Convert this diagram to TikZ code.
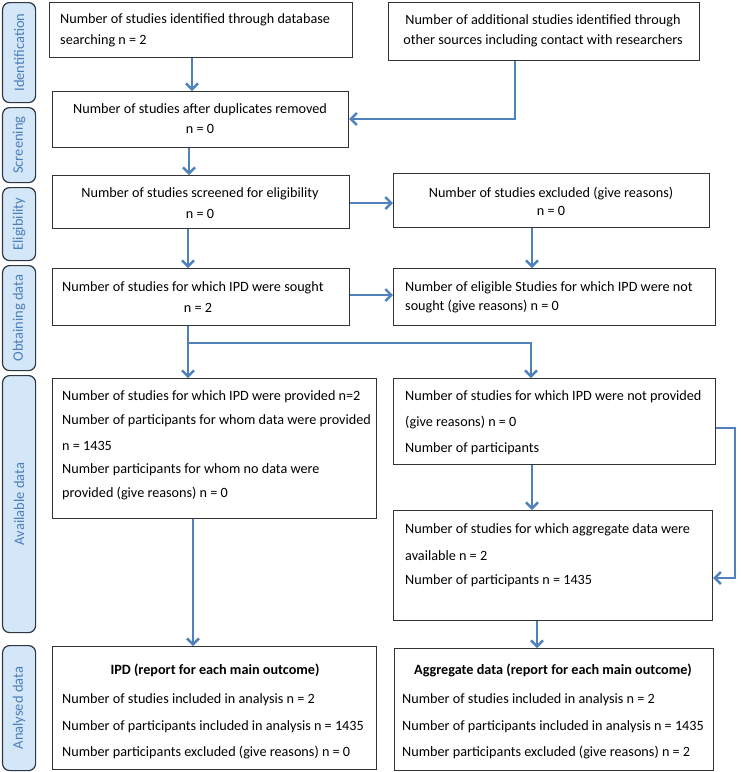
\documentclass[tikz,border=0pt]{standalone}
\usepackage{fontspec}
\setmainfont{Carlito}
\usetikzlibrary{arrows.meta}
\definecolor{arrowblue}{HTML}{4F81BD}
\definecolor{sidefill}{HTML}{D3E7F8}
\definecolor{sideedge}{HTML}{2E3641}
\definecolor{sidetext}{HTML}{4A7EBB}
\tikzset{
  box/.style={draw=black!80, line width=1.2pt, inner sep=0pt, anchor=north west},
  side/.style={draw=sideedge, fill=sidefill, line width=1.2pt, rounded corners=7pt, inner sep=0pt, anchor=north west},
  sidelbl/.style={rotate=90, text=sidetext, font=\fontsize{14.5}{16}\selectfont},
  txt/.style={font=\fontsize{14.2}{16}\selectfont, inner sep=0pt},
  ltxt/.style={txt, anchor=west},
  ctxt/.style={txt, anchor=center},
  btxt/.style={ctxt, font=\fontsize{14.2}{16}\selectfont\bfseries},
  flow/.style={draw=arrowblue, line width=2.8pt, -{Straight Barb[length=6pt,width=12pt,line width=2.4pt]}}
}
\begin{document}
\begin{tikzpicture}[x=1pt,y=-1pt]
\useasboundingbox (0,0) rectangle (740,772);
% side labels
\node[side, minimum width=33pt, minimum height=100pt] (sId) at (2,2) {};
\node[sidelbl] (lId) at (sId.center) {Identification};
\node[side, minimum width=33pt, minimum height=75pt] (sSc) at (2,107) {};
\node[sidelbl] (lSc) at (sSc.center) {Screening};
\node[side, minimum width=33pt, minimum height=73pt] (sEl) at (2,187) {};
\node[sidelbl] (lEl) at (sEl.center) {Eligibility};
\node[side, minimum width=33pt, minimum height=105pt] (sOb) at (2,265) {};
\node[sidelbl] (lOb) at (sOb.center) {Obtaining data};
\node[side, minimum width=33pt, minimum height=257pt] (sAv) at (2,375) {};
\node[sidelbl] (lAv) at (sAv.center) {Available data};
\node[side, minimum width=33pt, minimum height=125pt] (sAn) at (2,645) {};
\node[sidelbl] (lAn) at (sAn.center) {Analysed data};
% boxes
\node[box, minimum width=303pt, minimum height=55pt] (b1) at (49,2) {};
\node[box, minimum width=311pt, minimum height=58pt] (b2) at (388,2) {};
\node[box, minimum width=296pt, minimum height=56pt] (dup) at (52,91) {};
\node[box, minimum width=297pt, minimum height=53pt] (scr) at (52,175) {};
\node[box, minimum width=316pt, minimum height=54pt] (exc) at (393,173) {};
\node[box, minimum width=297pt, minimum height=57pt] (sou) at (52,268) {};
\node[box, minimum width=322pt, minimum height=57pt] (nsou) at (393,268) {};
\node[box, minimum width=324pt, minimum height=140pt] (prov) at (52,378) {};
\node[box, minimum width=322pt, minimum height=86pt] (nprov) at (393,378) {};
\node[box, minimum width=319pt, minimum height=110pt] (agg) at (393,510) {};
\node[box, minimum width=324pt, minimum height=123pt] (ipd) at (52,646) {};
\node[box, minimum width=319pt, minimum height=122pt] (agga) at (394,648) {};
% texts
\node[ltxt] (t1a) at (60,20) {Number of studies identified through database};
\node[ltxt] (t1b) at (60,41) {searching n = 2};
\node[ctxt] (t2a) at (543,21) {Number of additional studies identified through};
\node[ctxt] (t2b) at (543,41) {other sources including contact with researchers};
\node[ctxt] (t3a) at (200,110) {Number of studies after duplicates removed};
\node[ctxt] (t3b) at (200,129) {n = 0};
\node[ctxt] (t4a) at (200,194) {Number of studies screened for eligibility};
\node[ctxt] (t4b) at (200,214) {n = 0};
\node[ctxt] (t5a) at (551,194) {Number of studies excluded (give reasons)};
\node[ctxt] (t5b) at (551,211) {n = 0};
\node[ltxt] (t6a) at (62,288) {Number of studies for which IPD were sought};
\node[ctxt] (t6b) at (198,308) {n = 2};
\node[ltxt] (t7a) at (405,288) {Number of eligible Studies for which IPD were not};
\node[ltxt] (t7b) at (405,307) {sought (give reasons) n = 0};
\node[ltxt] (t8a) at (62,397) {Number of studies for which IPD were provided n=2};
\node[ltxt] (t8b) at (62,421) {Number of participants for whom data were provided};
\node[ltxt] (t8c) at (62,446) {n = 1435};
\node[ltxt] (t8d) at (62,470) {Number participants for whom no data were};
\node[ltxt] (t8e) at (62,494) {provided (give reasons) n = 0};
\node[ltxt] (t9a) at (405,397) {Number of studies for which IPD were not provided};
\node[ltxt] (t9b) at (405,423) {(give reasons) n = 0};
\node[ltxt] (t9c) at (405,449) {Number of participants};
\node[ltxt] (t10a) at (405,530) {Number of studies for which aggregate data were};
\node[ltxt] (t10b) at (405,556) {available n = 2};
\node[ltxt] (t10c) at (405,581) {Number of participants n = 1435};
\node[btxt] (t11a) at (215,670) {IPD (report for each main outcome)};
\node[ltxt] (t11b) at (62,700) {Number of studies included in analysis n = 2};
\node[ltxt] (t11c) at (62,727) {Number of participants included in analysis n = 1435};
\node[ltxt] (t11d) at (62,753) {Number participants excluded (give reasons) n = 0};
\node[btxt] (t12a) at (553,670) {Aggregate data (report for each main outcome)};
\node[ltxt] (t12b) at (402,700) {Number of studies included in analysis n = 2};
\node[ltxt] (t12c) at (402,727) {Number of participants included in analysis n = 1435};
\node[ltxt] (t12d) at (402,753) {Number participants excluded (give reasons) n = 2};
% connectors
\draw[flow] (b1.south -| 192,0) -- (dup.north -| 192,0);
\draw[flow] (b2.south -| 515,0) |- (dup.east |- 0,119);
\draw[flow] (dup.south -| 189,0) -- (scr.north -| 189,0);
\draw[flow] (scr.east |- 0,203) -- (exc.west |- 0,203);
\draw[flow] (scr.south -| 188,0) -- (sou.north -| 188,0);
\draw[flow] (exc.south -| 532,0) -- (nsou.north -| 532,0);
\draw[flow] (sou.east |- 0,295) -- (nsou.west |- 0,295);
\draw[flow] (sou.south -| 188,0) -- (prov.north -| 188,0);
\coordinate (br) at (188,343);
\draw[flow] (br) -| (nprov.north -| 531,0);
\draw[flow] (nprov.south -| 532,0) -- (agg.north -| 532,0);
\coordinate (rk) at (735,428);
\draw[flow] (nprov.east |- rk) -- (rk) |- (agg.east |- 0,578);
\draw[flow] (prov.south -| 193,0) -- (ipd.north -| 193,0);
\draw[flow] (agg.south -| 537,0) -- (agga.north -| 537,0);
\end{tikzpicture}
\end{document}
